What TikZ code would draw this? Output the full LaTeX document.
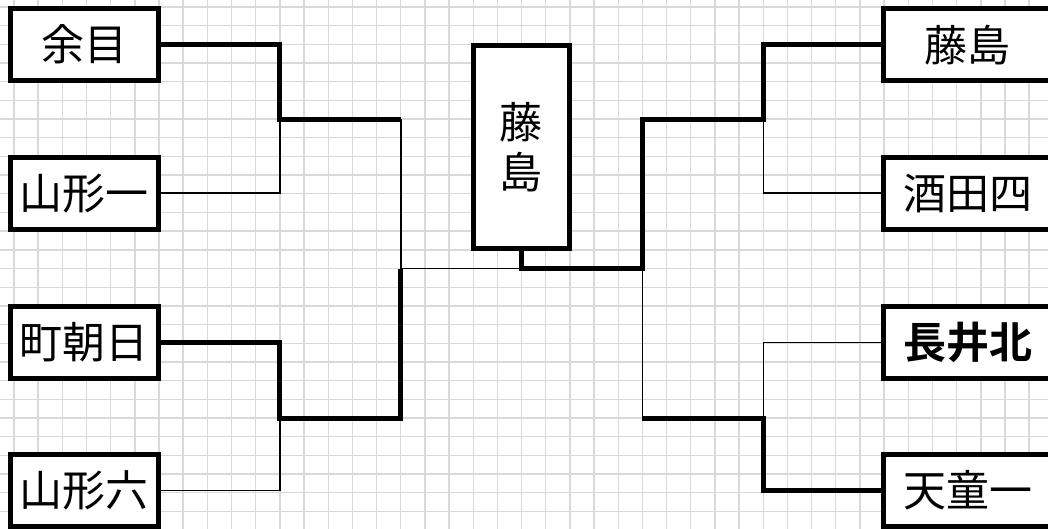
\documentclass[tikz,border=0pt]{standalone}
\usepackage{fontspec}
\newfontfamily\jpfont{Noto Sans CJK JP}
\newfontfamily\jpbold{Noto Sans CJK JP Bold}
\definecolor{cellgray}{RGB}{217,217,217}
\tikzset{
  team/.style={draw,line width=5pt,fill=white,inner sep=0pt,minimum height=72pt,
    font=\jpfont\fontsize{43}{50}\selectfont},
  winline/.style={line width=5pt},
  loseline/.style={line width=1.6pt},
  cellline/.style={cellgray,line width=1.4pt}
}
\begin{document}
\begin{tikzpicture}[x=1pt,y=-1pt]
\useasboundingbox (0,0) rectangle (1048,529);
\fill[white] (0,0) rectangle (1048,529);
% sheet grid
\foreach \i in {0,...,42} \draw[cellline] ({14+24.17*\i},0) -- ({14+24.17*\i},529);
\foreach \j in {0,...,28} \draw[cellline] (0,{7+18.68*\j}) -- (1048,{7+18.68*\j});
% left teams
\node[team,minimum width=147.5pt] (amarume) at (84.3,44.7) {余目};
\node[team,minimum width=147.5pt] (yamagata1) at (84.3,193.2) {山形一};
\node[team,minimum width=147.5pt] (machi) at (84.3,342.3) {町朝日};
\node[team,minimum width=147.5pt] (yamagata6) at (84.3,490.5) {山形六};
% right teams
\node[team,minimum width=168pt] (fujishima) at (967.5,44.7) {藤島};
\node[team,minimum width=168pt] (sakata) at (967.5,193.2) {酒田四};
\node[team,minimum width=168pt,font=\jpbold\fontsize{43}{50}\selectfont] (nagai) at (967.5,342.3) {長井北};
\node[team,minimum width=168pt] (tendo) at (967.5,490.5) {天童一};
% winner
\node[team,minimum width=96.3pt,minimum height=203pt,align=center] (champ) at (521.4,147.4) {藤\\島};
% bracket corners
\coordinate (lq1) at (279.9,119.1);
\coordinate (lq2) at (279.9,418);
\coordinate (ls1) at (400.7,119.1);
\coordinate (ls2) at (400.7,418);
\coordinate (lf) at (400.7,268.5);
\coordinate (stem) at (521.4,268.5);
\coordinate (rf) at (642.4,268.5);
\coordinate (rs1) at (642.4,119.1);
\coordinate (rs2) at (642.4,418);
\coordinate (rq1) at (763.3,119.1);
\coordinate (rq2) at (763.3,418);
% lost
\draw[loseline] (yamagata1.east) -| (lq1);
\draw[loseline] (yamagata6.east) -| (lq2);
\draw[loseline] (ls1) -- (lf) -- (stem);
\draw[loseline] (sakata.west) -| (rq1);
\draw[loseline] (nagai.west) -| (rq2);
\draw[loseline] (rf) -- (rs2);
% won
\draw[winline] (amarume.east) -| (lq1) -- (ls1);
\draw[winline] (machi.east) -| (lq2) -- (ls2) -- (lf);
\draw[winline] (champ.south) -- (stem) -- (rf) -- (rs1) -- (rq1) |- (fujishima.west);
\draw[winline] (rs2) -- (rq2) |- (tendo.west);
\end{tikzpicture}
\end{document}
